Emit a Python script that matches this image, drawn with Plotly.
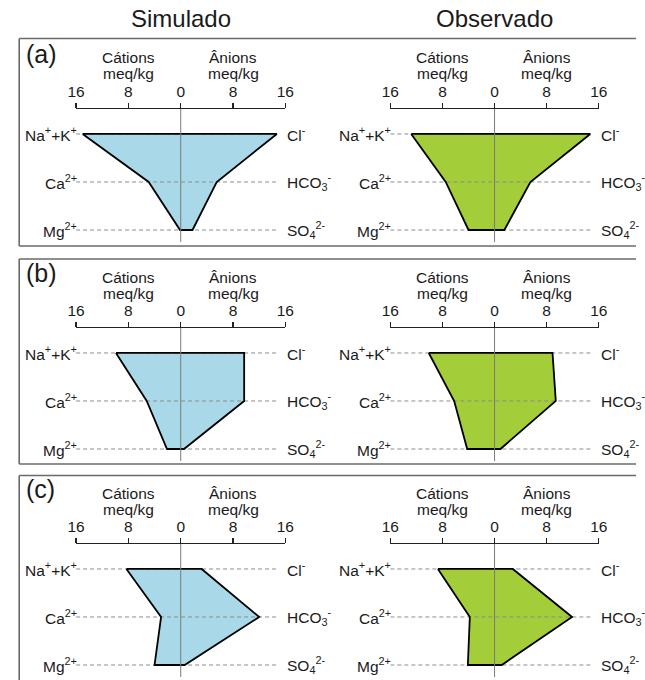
import plotly.graph_objects as go

W, H = 645, 680

col_titles = ["Simulado", "Observado"]
row_letters = ["(a)", "(b)", "(c)"]
cation_labels = ["Na<sup>+</sup>+K<sup>+</sup>", "Ca<sup>2+</sup>", "Mg<sup>2+</sup>"]
anion_labels = ["Cl<sup>-</sup>", "HCO<sub>3</sub><sup>-</sup>", "SO<sub>4</sub><sup>2-</sup>"]
tick_vals = [-16, -8, 0, 8, 16]
tick_text = ["16", "8", "0", "8", "16"]

# meq/kg values: [Na+K, Ca, Mg] and [Cl, HCO3, SO4]
sim_a_cat = [15.0, 4.9, 0.1]
sim_a_an = [14.7, 5.5, 1.8]
obs_a_cat = [12.8, 7.5, 4.0]
obs_a_an = [14.7, 5.5, 1.5]
sim_b_cat = [9.9, 5.2, 2.1]
sim_b_an = [9.7, 9.7, 0.5]
obs_b_cat = [10.1, 6.2, 4.2]
obs_b_an = [8.9, 9.4, 0.9]
sim_c_cat = [8.3, 3.0, 4.0]
sim_c_an = [3.2, 12.0, 0.6]
obs_c_cat = [8.7, 3.8, 4.1]
obs_c_an = [2.8, 11.9, 1.1]

panels = [
    (sim_a_cat, sim_a_an), (obs_a_cat, obs_a_an),
    (sim_b_cat, sim_b_an), (obs_b_cat, obs_b_an),
    (sim_c_cat, sim_c_an), (obs_c_cat, obs_c_an),
]
fills = ["#a9d9e8", "#a4cd3a"]

FONT = "Liberation Sans, Arial, sans-serif"
TXT = "#1a1a1a"


def PX(p):
    return p / W


def PY(p):
    return 1 - p / H


col_x = [(69.0, 284.3), (392.3, 606.7)]
row_top = [109, 328, 544]
panel_h = 133
y_range = [2.25, -0.52]

fig = go.Figure()
layout = dict(
    width=W, height=H, margin=dict(l=0, r=0, t=0, b=0),
    paper_bgcolor="white", plot_bgcolor="rgba(0,0,0,0)",
    showlegend=False, annotations=[], shapes=[], dragmode=False,
)
ys = list(range(len(cation_labels)))

# panel boxes (right side runs off the page; last box runs off the bottom)
BOX = dict(color="#6a6a6a", width=1.6)
boxes = [(38.5, 246.0), (259.0, 464.0), (475.5, None)]
bx = PX(10.5)
for (t, b) in boxes:
    yt = PY(t)
    yb = 0 if b is None else PY(b)
    layout["shapes"].append(dict(type="line", xref="paper", yref="paper",
                                 x0=bx, x1=1, y0=yt, y1=yt, line=BOX))
    layout["shapes"].append(dict(type="line", xref="paper", yref="paper",
                                 x0=bx, x1=bx, y0=yb, y1=yt, line=BOX))
    if b is not None:
        layout["shapes"].append(dict(type="line", xref="paper", yref="paper",
                                     x0=bx, x1=1, y0=yb, y1=yb, line=BOX))

for i, (cat, an) in enumerate(panels):
    r, c = divmod(i, 2)
    n = i + 1
    xa = "x" if n == 1 else f"x{n}"
    ya = "y" if n == 1 else f"y{n}"
    xk = "xaxis" if n == 1 else f"xaxis{n}"
    yk = "yaxis" if n == 1 else f"yaxis{n}"
    x0, x1 = col_x[c]
    top = row_top[r]
    layout[xk] = dict(
        domain=[PX(x0), PX(x1)], range=[-16, 16], anchor=ya, side="top",
        showline=True, linecolor="#222", linewidth=1.2, ticks="outside",
        ticklen=5, tickwidth=1.2, tickcolor="#222", tickvals=tick_vals,
        ticktext=tick_text, tickfont=dict(family=FONT, size=15.5, color=TXT),
        showgrid=False, zeroline=False, fixedrange=True)
    layout[yk] = dict(
        domain=[PY(top + panel_h), PY(top)], range=y_range,
        anchor=xa, visible=False, fixedrange=True)

    px = [-v for v in cat] + list(reversed(an)) + [-cat[0]]
    py = ys + list(reversed(ys)) + [ys[0]]
    fig.add_trace(go.Scatter(x=px, y=py, xaxis=xa, yaxis=ya, mode="lines",
                             fill="toself", fillcolor=fills[c],
                             line=dict(width=0), hoverinfo="skip"))
    for yv in ys:
        fig.add_trace(go.Scatter(x=[-16, 15], y=[yv, yv], xaxis=xa, yaxis=ya,
                                 mode="lines", hoverinfo="skip",
                                 line=dict(color="#8c8c8c", width=1, dash="4px,3px")))
    fig.add_trace(go.Scatter(x=px, y=py, xaxis=xa, yaxis=ya, mode="lines",
                             line=dict(color="black", width=1.8), hoverinfo="skip"))
    # center line
    layout["shapes"].append(dict(type="line", xref=xa, yref=f"{ya} domain",
                                 x0=0, x1=0, y0=0, y1=1,
                                 line=dict(color="#7a7a7a", width=1), layer="above"))
    for yv, lab in zip(ys, cation_labels):
        layout["annotations"].append(dict(
            x=-16, y=yv, xref=xa, yref=ya, text=lab, showarrow=False,
            xanchor="right", yanchor="middle", xshift=3,
            font=dict(family=FONT, size=15.5, color=TXT)))
    for yv, lab in zip(ys, anion_labels):
        layout["annotations"].append(dict(
            x=16, y=yv, xref=xa, yref=ya, text=lab, showarrow=False,
            xanchor="left", yanchor="middle", xshift=0,
            font=dict(family=FONT, size=15.5, color=TXT)))
    for xv, head in [(-8, "Cátions"), (8, "Ânions")]:
        layout["annotations"].append(dict(
            x=xv, y=1, xref=xa, yref=f"{ya} domain", text=head, showarrow=False,
            xanchor="center", yanchor="middle", yshift=51,
            font=dict(family=FONT, size=15.5, color=TXT)))
        layout["annotations"].append(dict(
            x=xv, y=1, xref=xa, yref=f"{ya} domain", text="meq/kg", showarrow=False,
            xanchor="center", yanchor="middle", yshift=35,
            font=dict(family=FONT, size=15.5, color=TXT)))
    if c == 0:
        layout["annotations"].append(dict(
            x=PX(15), y=PY(top - 55), xref="paper", yref="paper",
            text=row_letters[r], showarrow=False, xanchor="left", yanchor="middle",
            font=dict(family=FONT, size=25, color=TXT)))

for c, t in enumerate(col_titles):
    xc = (col_x[c][0] + col_x[c][1]) / 2
    layout["annotations"].append(dict(
        x=PX(xc), y=PY(18), xref="paper", yref="paper", text=t,
        showarrow=False, xanchor="center", yanchor="middle",
        font=dict(family=FONT, size=24, color=TXT)))

fig.update_layout(**layout)
fig.write_html("out.html", config={"displayModeBar": False, "staticPlot": True},
               post_script="document.body.style.margin='0';document.body.style.overflow='hidden';")
